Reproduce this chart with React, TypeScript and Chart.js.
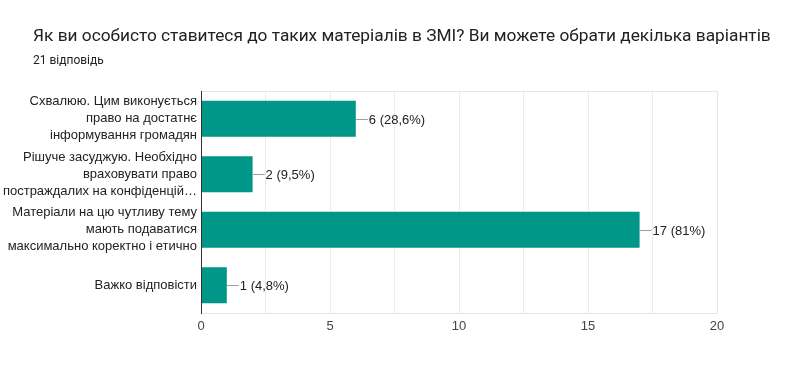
import React, { useEffect, useRef } from "react";
import { Chart, registerables } from "chart.js";

Chart.register(...registerables);

const titleText = "Як ви особисто ставитеся до таких матеріалів в ЗМІ? Ви можете обрати декілька варіантів";
const subtitleText = "21 відповідь";
const categories: string[][] = [
  ["Схвалюю. Цим виконується", "право на достатнє", "інформування громадян"],
  ["Рішуче засуджую. Необхідно", "враховувати право", "постраждалих на конфіденцій…"],
  ["Матеріали на цю чутливу тему", "мають подаватися", "максимально коректно і етично"],
  ["Важко відповісти"],
];
const values = [6, 2, 17, 1];
const valueLabels = ["6 (28,6%)", "2 (9,5%)", "17 (81%)", "1 (4,8%)"];
const xTickValues = [0, 5, 10, 15, 20];

const TITLE_FONT = "Roboto, Arial, sans-serif";
const FONT = "'Liberation Sans', Arial, sans-serif";

export default function App() {
  const ref = useRef<HTMLCanvasElement>(null);
  useEffect(() => {
    document.body.style.margin = "0";
    const ctx = ref.current!.getContext("2d")!;
    const decor = {
      id: "decor",
      beforeDraw(chart: any) {
        const c = chart.ctx;
        c.save();
        c.fillStyle = "#ffffff";
        c.fillRect(0, 0, chart.width, chart.height);
        c.restore();
      },
      afterDraw(chart: any) {
        const c = chart.ctx;
        const area = chart.chartArea;
        c.save();
        c.strokeStyle = "#e6e6e6";
        c.lineWidth = 1;
        c.beginPath();
        c.moveTo(area.left, area.top + 0.5);
        c.lineTo(area.right + 0.5, area.top + 0.5);
        c.lineTo(area.right + 0.5, area.bottom + 0.5);
        c.lineTo(area.left, area.bottom + 0.5);
        c.stroke();
        c.strokeStyle = "#333333";
        c.beginPath();
        c.moveTo(area.left + 0.5, area.top);
        c.lineTo(area.left + 0.5, area.bottom + 1);
        c.stroke();
        c.fillStyle = "#212121";
        c.textBaseline = "middle";
        c.textAlign = "left";
        c.font = `17.3px ${TITLE_FONT}`;
        c.fillText(titleText, 33, 37);
        c.font = `12px ${TITLE_FONT}`;
        c.fillText(subtitleText, 33, 61);
        const meta = chart.getDatasetMeta(0);
        meta.data.forEach((bar: any, i: number) => {
          const x = bar.x;
          const y = Math.round(bar.y) + 0.5;
          c.strokeStyle = "#9e9e9e";
          c.beginPath();
          c.moveTo(x, y);
          c.lineTo(x + 12, y);
          c.stroke();
          c.fillStyle = "#222222";
          c.font = `13px ${FONT}`;
          c.textBaseline = "middle";
          c.fillText(valueLabels[i], x + 13, y + 0.5);
        });
        c.restore();
      },
    };
    const chart = new Chart(ctx, {
      type: "bar",
      data: {
        labels: categories,
        datasets: [
          {
            data: values,
            backgroundColor: "#009688",
            borderWidth: 0,
            barPercentage: 0.65,
            categoryPercentage: 1,
          },
        ],
      },
      options: {
        indexAxis: "y",
        animation: false,
        responsive: false,
        layout: { padding: { left: 0, top: 91, right: 83, bottom: 0 } },
        plugins: { legend: { display: false }, tooltip: { enabled: false }, title: { display: false } },
        scales: {
          x: {
            min: 0,
            max: 20,
            afterFit(scale: any) {
              scale.height = 66;
            },
            afterBuildTicks(scale: any) {
              const t: any[] = [];
              for (let v = 0; v <= 20; v += 2.5) t.push({ value: v });
              scale.ticks = t;
            },
            ticks: {
              autoSkip: false,
              maxRotation: 0,
              padding: 6,
              color: "#444444",
              font: { family: FONT, size: 13 },
              callback: (v: any) => (xTickValues.includes(Number(v)) ? String(v) : ""),
            },
            grid: { color: "#ebebeb", drawTicks: false },
            border: { display: false },
          },
          y: {
            afterFit(scale: any) {
              scale.width = 201;
            },
            ticks: {
              padding: 4,
              color: "#222222",
              font: { family: FONT, size: 13, lineHeight: 1.3 },
            },
            grid: { display: false, drawTicks: false },
            border: { display: false },
          },
        },
      },
      plugins: [decor],
    });
    return () => chart.destroy();
  }, []);
  return (
    <div style={{ position: "absolute", left: 0, top: 0, width: 800, height: 379 }}>
      <canvas ref={ref} width={800} height={379} style={{ width: 800, height: 379 }} />
    </div>
  );
}
